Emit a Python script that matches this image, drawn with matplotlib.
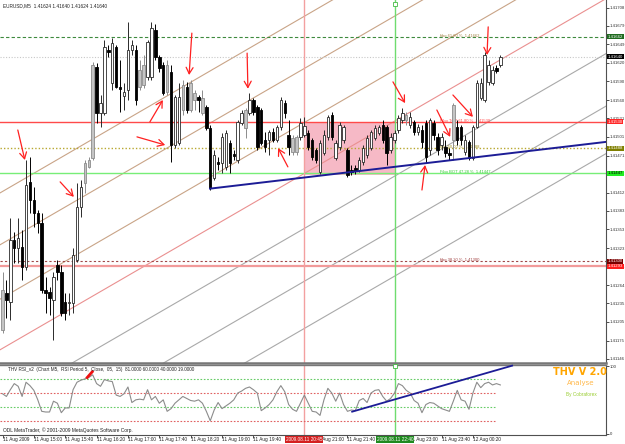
import matplotlib
matplotlib.use('Agg')
import matplotlib.pyplot as plt
import matplotlib.transforms as mtransforms
from matplotlib.patches import Rectangle

plt.rcParams['font.family'] = ['Liberation Sans', 'DejaVu Sans']

# ---------------- data ----------------
title_text = "EURUSD,M5  1.41624 1.41640 1.41624 1.41640"
opens = [1.41192,1.41251,1.41237,1.41336,1.41323,1.41325,1.41293,1.41429,1.41400,1.41379,
         1.41363,1.41256,1.41253,1.41240,1.41296,1.41285,1.41237,1.41235,1.41235,1.41304,
         1.41389,1.41427,1.41453,1.41467,1.41613,1.41539,1.41539,1.41640,1.41587,1.41645,
         1.41581,1.41566,1.41576,1.41640,1.41640,1.41581,1.41584,1.41597,1.41597,1.41672,
         1.41629,1.41616,1.41573,1.41605,1.41488,1.41491,1.41544,1.41581,1.41544,1.41560,
         1.41565,1.41539,1.41549,1.41515,1.41435,1.41461,1.41459,1.41453,1.41491,1.41474,
         1.41464,1.41523,1.41515,1.41539,1.41560,1.41549,1.41544,1.41496,1.41496,1.41509,
         1.41496,1.41517,1.41555,1.41504,1.41477,1.41477,1.41501,1.41504,1.41507,1.41496,
         1.41480,1.41445,1.41475,1.41501,1.41536,1.41467,1.41485,1.41496,1.41480,1.41448,
         1.41451,1.41448,1.41461,1.41472,1.41483,1.41499,1.41507,1.41520,1.41517,1.41480,
         1.41496,1.41512,1.41528,1.41528,1.41520,1.41525,1.41509,1.41512,1.41523,1.41480,
         1.41523,1.41501,1.41488,1.41485,1.41475,1.41496,1.41517,1.41517,1.41477,1.41493,
         1.41467,1.41517,1.41563,1.41560,1.41589,1.41587,1.41611,1.41616]
highs = [1.41285,1.41272,1.41371,1.41349,1.41371,1.41352,1.41464,1.41469,1.41421,1.41384,
         1.41379,1.41277,1.41261,1.41285,1.41304,1.41296,1.41251,1.41251,1.41323,1.41427,
         1.41432,1.41464,1.41469,1.41621,1.41619,1.41568,1.41656,1.41648,1.41659,1.41648,
         1.41624,1.41587,1.41685,1.41656,1.41648,1.41624,1.41632,1.41656,1.41685,1.41682,
         1.41632,1.41621,1.41624,1.41616,1.41568,1.41587,1.41592,1.41589,1.41592,1.41576,
         1.41568,1.41576,1.41552,1.41520,1.41480,1.41469,1.41507,1.41512,1.41496,1.41480,
         1.41528,1.41544,1.41547,1.41571,1.41563,1.41552,1.41547,1.41509,1.41512,1.41515,
         1.41520,1.41565,1.41560,1.41528,1.41504,1.41504,1.41531,1.41533,1.41512,1.41499,
         1.41483,1.41496,1.41512,1.41536,1.41541,1.41496,1.41525,1.41520,1.41483,1.41456,
         1.41456,1.41469,1.41488,1.41504,1.41512,1.41520,1.41520,1.41528,1.41520,1.41507,
         1.41512,1.41536,1.41547,1.41541,1.41541,1.41528,1.41522,1.41520,1.41528,1.41531,
         1.41528,1.41507,1.41507,1.41496,1.41483,1.41555,1.41528,1.41520,1.41504,1.41496,
         1.41520,1.41592,1.41595,1.41637,1.41624,1.41614,1.41616,1.41632]
lows = [1.41187,1.41211,1.41208,1.41299,1.41299,1.41272,1.41288,1.41379,1.41357,1.41347,
        1.41251,1.41219,1.41216,1.41176,1.41272,1.41214,1.41208,1.41216,1.41219,1.41301,
        1.41373,1.41411,1.41451,1.41464,1.41523,1.41517,1.41536,1.41629,1.41576,1.41579,
        1.41541,1.41544,1.41560,1.41632,1.41552,1.41576,1.41579,1.41592,1.41592,1.41624,
        1.41605,1.41568,1.41568,1.41461,1.41483,1.41488,1.41536,1.41539,1.41541,1.41544,
        1.41541,1.41536,1.41512,1.41416,1.41432,1.41448,1.41443,1.41448,1.41443,1.41464,
        1.41459,1.41520,1.41499,1.41536,1.41536,1.41480,1.41488,1.41477,1.41472,1.41493,
        1.41493,1.41512,1.41531,1.41472,1.41472,1.41472,1.41496,1.41501,1.41480,1.41464,
        1.41459,1.41442,1.41472,1.41496,1.41496,1.41464,1.41480,1.41491,1.41437,1.41440,
        1.41442,1.41445,1.41456,1.41467,1.41480,1.41496,1.41504,1.41491,1.41456,1.41475,
        1.41491,1.41507,1.41523,1.41520,1.41515,1.41504,1.41504,1.41483,1.41459,1.41472,
        1.41496,1.41472,1.41480,1.41469,1.41464,1.41464,1.41488,1.41488,1.41472,1.41464,
        1.41464,1.41515,1.41560,1.41557,1.41584,1.41584,1.41603,1.41613]
closes = [1.41256,1.41240,1.41336,1.41323,1.41339,1.41293,1.41424,1.41400,1.41379,1.41363,
          1.41256,1.41251,1.41243,1.41277,1.41285,1.41219,1.41219,1.41237,1.41312,1.41389,
          1.41421,1.41459,1.41464,1.41616,1.41539,1.41555,1.41645,1.41637,1.41651,1.41581,
          1.41578,1.41573,1.41640,1.41648,1.41560,1.41608,1.41616,1.41653,1.41675,1.41629,
          1.41611,1.41571,1.41616,1.41488,1.41565,1.41565,1.41584,1.41544,1.41587,1.41571,
          1.41560,1.41563,1.41515,1.41419,1.41472,1.41458,1.41501,1.41507,1.41459,1.41470,
          1.41525,1.41539,1.41544,1.41560,1.41541,1.41485,1.41491,1.41485,1.41509,1.41496,
          1.41517,1.41560,1.41539,1.41485,1.41499,1.41501,1.41523,1.41518,1.41485,1.41469,
          1.41464,1.41491,1.41504,1.41533,1.41501,1.41491,1.41520,1.41517,1.41440,1.41445,
          1.41446,1.41464,1.41483,1.41499,1.41509,1.41515,1.41517,1.41496,1.41475,1.41501,
          1.41507,1.41531,1.41539,1.41536,1.41533,1.41509,1.41517,1.41493,1.41469,1.41528,
          1.41504,1.41480,1.41501,1.41475,1.41472,1.41552,1.41496,1.41496,1.41496,1.41467,
          1.41517,1.41587,1.41587,1.41632,1.41616,1.41608,1.41606,1.41629]
gray_bars = [0,21,22,23,35,36,42,46,48,49,51,62,74,75,103,115]

rsi = [59,55,65,74,70,55,76,71,64,50,33,32,32,48,45,31,38,38,65,76,
       79,81,83,87,74,70,80,78,77,57,55,59,69,46,50,51,50,65,50,55,
       45,50,33,37,45,50,55,52,49,48,50,45,33,19,35,46,37,41,45,50,
       60,63,67,69,65,60,34,38,43,50,62,71,62,43,36,33,45,57,45,33,
       32,27,50,67,60,48,60,43,33,35,34,49,52,46,60,64,65,55,48,52,
       60,74,71,64,60,49,45,31,43,46,45,41,37,35,33,48,64,50,48,36,
       60,76,68,74,76,72,74,72]
rsi_levels = [81, 60, 40, 19]
rsi_level_colors = ['#66cc66', '#e06060', '#66cc66', '#e06060']
rsi_title = "THV RSI_v2  (Chart M5,  RSI Period 5,  Close,  05,  15)  81.0000 60.0000 40.0000 19.0000"
rsi_trend_x = [89.2, 130.0]
rsi_trend_y = [32.5, 100.5]

# parallel channel lines: price at bar -1 and bar 155
chan_start = [1.41410, 1.41327, 1.41240, 1.41159, 1.41071, 1.40986, 1.40911]
chan_end   = [1.41978, 1.41894, 1.41808, 1.41726, 1.41638, 1.41554, 1.41478]
chan_colors = ['#c9a487', '#c9a487', '#c9a487', '#ea9090', '#a9a9a9', '#a9a9a9', '#a9a9a9']

# horizontal levels
h_prices = [1.41661, 1.41629, 1.41525, 1.41483, 1.41443, 1.41302, 1.41294]
h_colors = ['#3d8a3d', '#c8c8c8', '#ff4a4a', '#b8a830', '#77ee77', '#a04848', '#f29a9a']
h_styles = [(0, (3, 2)), (0, (1, 1.5)), '-', (0, (1, 1.5)), '-', (0, (2, 2)), '-']
h_widths = [0.8, 0.8, 1.0, 1.0, 1.0, 0.8, 1.6]
h_labels = ['1.41662', '1.41640', '1.41530', '1.41488', '1.41447', '1.41300', '1.41293']
h_boxes = ['#1f6b1f', '#000000', '#ff2626', '#7f7f00', '#22ee22', '#7a0000', '#ff1e1e']
h_txtcol = ['white', 'white', 'white', 'white', 'black', 'white', 'white']

fibo_texts = ['fibo 61.80 %  1.41662', 'Fibo TOP 61.80 %  1.41530', 'fibo 50.00 %  1.41488',
              'Fibo BOT 47.28 %  1.41447', 'fibo 38.20 %  1.41300']
fibo_prices = [1.41661, 1.41525, 1.41483, 1.41443, 1.41302]
fibo_colors = ['#a08040', '#ff5050', '#a09020', '#33cc33', '#a04040']

price_ticks = [1.41146, 1.41175, 1.41205, 1.41235, 1.41264, 1.41294, 1.41323, 1.41353, 1.41383,
               1.41412, 1.41442, 1.41471, 1.41501, 1.41531, 1.41560, 1.41590, 1.41620, 1.41649,
               1.41679, 1.41708]

time_pos = [0, 8, 16, 24, 32, 40, 48, 56, 64, 80, 88, 104, 112, 120]
time_labels = ['11 Aug 2009', '11 Aug 15:00', '11 Aug 15:40', '11 Aug 16:20', '11 Aug 17:00',
               '11 Aug 17:40', '11 Aug 18:20', '11 Aug 19:00', '11 Aug 19:40', '11 Aug 21:00',
               '11 Aug 21:40', '11 Aug 23:00', '11 Aug 23:40', '12 Aug 00:20']
red_vline = 76.9
green_vline = 100.1
red_vline_label = '2009.08.11 20:45'
green_vline_label = '2009.08.11 22:40'

box_x = [76.9, 100.1]
box_y = [1.41440, 1.41525]

trend_x = [52.7, 154.0]
trend_y = [1.41418, 1.41493]

arrow_tail_x = [3.9, 14.7, 48.3, 37.6, 34.3, 62.4, 72.8, 99.6, 110.8, 114.9, 123.9, 107.0]
arrow_tail_y = [1.41512, 1.41429, 1.41667, 1.41525, 1.41501, 1.41635, 1.41453, 1.41589,
                1.41544, 1.41568, 1.41677, 1.41416]
arrow_tip_x = [5.7, 18.2, 47.6, 40.9, 41.5, 62.6, 70.3, 102.7, 114.2, 120.0, 123.6, 107.8]
arrow_tip_y = [1.41464, 1.41405, 1.41600, 1.41560, 1.41488, 1.41578, 1.41483, 1.41555,
               1.41501, 1.41533, 1.41632, 1.41456]

# ---------------- layout ----------------
W, H = 625, 444
fig = plt.figure(figsize=(6.25, 4.44), dpi=100)
fig.patch.set_facecolor('white')

def fy(py):
    return 1 - py / H

def fx(px):
    return px / W

ax = fig.add_axes([0, fy(363), fx(606), 363 / H])
axr = fig.add_axes([0, fy(435), fx(606), (435 - 365) / H])

XL = (-0.64, 153.95)
ax.set_xlim(*XL)
ax.set_ylim(1.411392, 1.41720)
axr.set_xlim(*XL)
axr.set_ylim(-2, 101.5)

SMALL = 3.1
for a in (ax, axr):
    a.set_facecolor('white')
    a.spines['left'].set_visible(False)
    a.spines['top'].set_visible(False)
    a.spines['right'].set_color('#505050')
    a.spines['right'].set_linewidth(0.8)
    a.yaxis.tick_right()
    a.tick_params(axis='y', labelsize=SMALL, length=1.8, pad=1.0, width=0.6, colors='#303030')
ax.spines['bottom'].set_color('#777777')
ax.spines['bottom'].set_linewidth(1.8)
axr.spines['top'].set_visible(True)
axr.spines['top'].set_color('#777777')
axr.spines['top'].set_linewidth(1.0)
axr.spines['bottom'].set_color('#505050')
axr.spines['bottom'].set_linewidth(0.8)
ax.set_xticks([])

ax.set_yticks(price_ticks)
ax.set_yticklabels([f'{v:.5f}' for v in price_ticks])
axr.set_yticks([0, 100])
axr.set_yticklabels(['0', '100'])
axr.set_xticks(time_pos)
axr.set_xticklabels([])
axr.tick_params(axis='x', length=2, width=0.6, colors='#303030')

ax.add_patch(Rectangle((box_x[0], box_y[0]), box_x[1] - box_x[0], box_y[1] - box_y[0],
                       facecolor='#f6b9c6', edgecolor='none', zorder=0.5))

for s, e, c in zip(chan_start, chan_end, chan_colors):
    ax.plot([-1, 155], [s, e], color=c, lw=0.8, zorder=1)

for p, c, ls, lw in zip(h_prices, h_colors, h_styles, h_widths):
    ax.axhline(p, color=c, ls=ls, lw=lw, zorder=1.2)

for a in (ax, axr):
    a.axvline(red_vline, color='#f3a0a0', lw=1.0, zorder=1.3)
    a.axvline(green_vline, color='#6fdc6f', lw=1.0, zorder=1.3)
ax.plot([green_vline], [1.41713], marker='s', ms=2.5, mfc='white', mec='#44bb44', mew=0.6,
        zorder=6, clip_on=False)
axr.plot([green_vline], [100.5], marker='s', ms=2.5, mfc='white', mec='#44bb44', mew=0.6,
         zorder=6, clip_on=False)

for i, (o, h, l, c) in enumerate(zip(opens, highs, lows, closes)):
    if i in gray_bars:
        fc, ec = '#c4c4c4', '#8c8c8c'
    elif c >= o:
        fc, ec = 'white', '#2a2a2a'
    else:
        fc, ec = 'black', '#000000'
    ax.vlines(i, l, h, color=ec, lw=0.7, zorder=3)
    hgt = abs(c - o)
    if hgt < 0.000015:
        hgt = 0.000015
    ax.bar(i, hgt, bottom=min(o, c), width=0.62, facecolor=fc, edgecolor=ec,
           linewidth=0.6, zorder=3.2)

ax.plot(trend_x, trend_y, color='#1c1c96', lw=1.4, zorder=4, solid_capstyle='butt')

for tx, ty, hx, hy in zip(arrow_tail_x, arrow_tail_y, arrow_tip_x, arrow_tip_y):
    ax.annotate('', xy=(hx, hy), xytext=(tx, ty),
                arrowprops=dict(arrowstyle='->,head_length=0.45,head_width=0.25',
                                color='#ff2020', lw=0.9, shrinkA=0, shrinkB=0), zorder=5)

for t, p, c in zip(fibo_texts, fibo_prices, fibo_colors):
    ax.text(111.5, p + 0.00002, t, fontsize=3.0, color=c, va='center', ha='left', zorder=2.5)

btr = mtransforms.blended_transform_factory(ax.transAxes, ax.transData)
for p, lab, bc, tc in zip(h_prices, h_labels, h_boxes, h_txtcol):
    ax.text(1.003, p, lab, transform=btr, fontsize=SMALL, color=tc, va='center', ha='left',
            bbox=dict(boxstyle='square,pad=0.12', fc=bc, ec='none'), clip_on=False, zorder=10)

# RSI
axr.plot(range(len(rsi)), rsi, color='#8c8c8c', lw=0.8, zorder=3)
for lv, lc in zip(rsi_levels, rsi_level_colors):
    axr.hlines(lv, XL[0], 125.6, colors=lc, linestyles=(0, (1.5, 1.5)), lw=0.8, zorder=2)
axr.plot(rsi_trend_x, rsi_trend_y, color='#1c1c96', lw=1.3, zorder=4, clip_on=False)
axr.plot([21.6, 22.9], [83, 91.5], color='#ee1111', lw=2.0, zorder=5)

fig.text(fx(3), fy(6), title_text, fontsize=3.4, color='#202020', va='center', ha='left')
fig.text(fx(8), fy(369.5), rsi_title, fontsize=3.35, color='#202020', va='center', ha='left')
fig.text(fx(3), fy(430.5), 'ODL MetaTrader, \u00a9 2001-2009 MetaQuotes Software Corp.',
         fontsize=3.5, color='#202020', va='center', ha='left')
fig.text(fx(580), fy(372), 'THV V 2.0', fontsize=7.0, color='#ffa500', fontweight='bold',
         family=['DejaVu Sans'], va='center', ha='center')
fig.text(fx(581), fy(383), 'Analyse', fontsize=5.0, color='#ffb84a', va='center', ha='center',
         family=['DejaVu Sans'])
fig.text(fx(581), fy(394), 'By Cobraforex', fontsize=3.4, color='#9acd32', va='center', ha='center')

btt = mtransforms.blended_transform_factory(axr.transData, fig.transFigure)
for p, lab in zip(time_pos, time_labels):
    axr.text(p, fy(439.5), lab, transform=btt, fontsize=3.4, color='#202020', va='center',
             ha='left', clip_on=False, zorder=6)
axr.text(red_vline, fy(439.5), red_vline_label, transform=btt, fontsize=3.4, color='white',
         va='center', ha='center', clip_on=False, zorder=8,
         bbox=dict(boxstyle='square,pad=0.2', fc='#d42020', ec='none'))
axr.text(green_vline, fy(439.5), green_vline_label, transform=btt, fontsize=3.4, color='white',
         va='center', ha='center', clip_on=False, zorder=8,
         bbox=dict(boxstyle='square,pad=0.2', fc='#1f8a1f', ec='none'))

fig.savefig('out.png', dpi=100, facecolor='white')
